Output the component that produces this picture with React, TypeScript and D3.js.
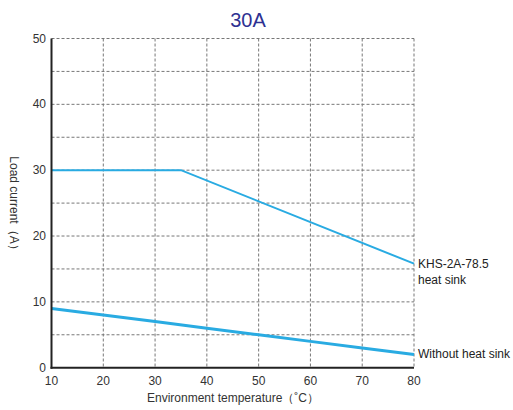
import React from "react";
import * as d3 from "d3";

const temps = [10, 35, 80];
const heatSink = [30, 30, 15.8];
const noSinkTemps = [10, 20, 30, 40, 50, 60, 70, 80];
const noSink = [9, 8, 7, 6, 5, 4, 3, 2];
const xTicks = [10, 20, 30, 40, 50, 60, 70, 80];
const yTicks = [0, 10, 20, 30, 40, 50];
const yGrid = [5, 10, 15, 20, 25, 30, 35, 40, 45, 50];

const W = 513, H = 410;
const left = 51.5, right = 414, top = 38.5, bottom = 367.7;

export default function App() {
  const x = d3.scaleLinear().domain([10, 80]).range([left, right]);
  const y = d3.scaleLinear().domain([0, 50]).range([bottom, top]);
  const line = d3.line<[number, number]>().x(d => x(d[0])).y(d => y(d[1]));
  const hs = temps.map((t, i) => [t, heatSink[i]] as [number, number]);
  const ns = noSinkTemps.map((t, i) => [t, noSink[i]] as [number, number]);
  const font = "Arial, 'Liberation Sans', sans-serif";
  return (
    <svg width={W} height={H} style={{ position: "absolute", left: 0, top: 0 }} fontFamily={font}>
      <rect width={W} height={H} fill="#fff" />
      <text x={248} y={27} textAnchor="middle" fontSize={20} fill="#2e3192">30A</text>
      {yGrid.map(v => (
        <line key={"gy" + v} x1={left} x2={right} y1={y(v)} y2={y(v)} stroke="#777" strokeWidth={1} strokeDasharray="3,2" />
      ))}
      {xTicks.slice(1).map(v => (
        <line key={"gx" + v} x1={x(v)} x2={x(v)} y1={top} y2={bottom} stroke="#777" strokeWidth={1} strokeDasharray="3,2" />
      ))}
      <path d={line(hs) || ""} fill="none" stroke="#29abe2" strokeWidth={2} />
      <path d={line(ns) || ""} fill="none" stroke="#29abe2" strokeWidth={3} />
      <line x1={left} x2={left} y1={top} y2={bottom + 1} stroke="#222" strokeWidth={2} />
      <line x1={left - 1} x2={right} y1={bottom} y2={bottom} stroke="#222" strokeWidth={2} />
      {yTicks.map(v => (
        <text key={"yt" + v} x={46} y={y(v) + 4} textAnchor="end" fontSize={12} fill="#333">{v}</text>
      ))}
      {xTicks.map(v => (
        <text key={"xt" + v} x={x(v)} y={385} textAnchor="middle" fontSize={12} fill="#333">{v}</text>
      ))}
      <text x={233} y={402} textAnchor="middle" fontSize={12} fill="#333">Environment temperature（˚C）</text>
      <text transform={`translate(10,206) rotate(90)`} textAnchor="middle" fontSize={12} fill="#333">Load current（A）</text>
      <text x={418} y={268} fontSize={12} fill="#222">KHS-2A-78.5</text>
      <text x={418} y={284} fontSize={12} fill="#222">heat sink</text>
      <text x={418} y={358} fontSize={12} fill="#222">Without heat sink</text>
    </svg>
  );
}
